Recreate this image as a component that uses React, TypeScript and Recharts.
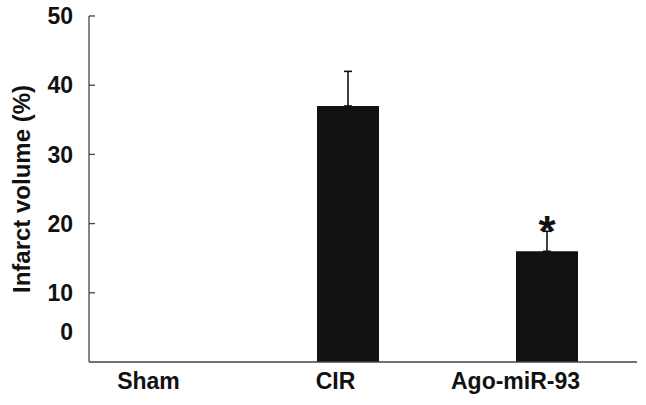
import React from 'react';
import { BarChart, Bar, XAxis, YAxis, ErrorBar, LabelList } from 'recharts';

const groups = ['Sham', 'CIR', 'Ago-miR-93'];
const infarct = [0, 37, 16];
const sd = [0, 5, 2.9];
const marks = ['', '', '*'];
const yTicks = [0, 10, 20, 30, 40, 50];

// only the upper whisker is drawn
const data = groups.map((g, i) => ({ name: g, value: infarct[i], err: [0, sd[i]], mark: marks[i] }));

const FONT = '"Liberation Sans", Arial, sans-serif';
// the reference labels sit a bit off the bar centres
const X_NUDGE = [0, -12, -31];

const XTick = (props: any) => {
    const { x, y, payload, index } = props;
    return (
        <text x={x + (X_NUDGE[index] || 0)} y={y} dy="0.71em" textAnchor="middle"
            fontFamily={FONT} fontWeight="bold" fontSize={23} fill="#111">
            {payload.value}
        </text>
    );
};

const YTick = (props: any) => {
    const { x, y, payload } = props;
    // the "0" label is drawn well above its tick in the original
    const shift = payload.value === 0 ? -30 : 0;
    return (
        <g>
            {payload.value !== 0 && <line x1={x} x2={x + 6} y1={y} y2={y} stroke="#444" strokeWidth={1.3} />}
            <text x={x - 16} y={y + shift} dy="0.36em" textAnchor="end"
                fontFamily={FONT} fontWeight="bold" fontSize={23} fill="#111">
                {payload.value}
            </text>
        </g>
    );
};

const Star = (props: any) => {
    const { x, y, width, height, value, index } = props;
    if (!value) return null;
    const v = infarct[index];
    const top = y - (sd[index] * height) / v;
    return (
        <text x={x + width / 2} y={top + 11} textAnchor="middle"
            fontFamily={FONT} fontWeight="bold" fontSize={44} fill="#111">
            {value}
        </text>
    );
};

export default function App() {
    return (
        <div style={{ position: 'absolute', left: 0, top: 0, width: 646, height: 405, background: '#fff' }}>
            <BarChart width={646} height={405} data={data} margin={{ top: 16, right: 9, bottom: 13, left: 29 }}>
                <XAxis dataKey="name" height={30} padding={{ left: -40, right: -9 }}
                    axisLine={{ stroke: '#444', strokeWidth: 1.3 }} tickLine={false}
                    tickSize={0} tickMargin={11} tick={<XTick />} interval={0} />
                <YAxis width={60} domain={[0, 50]} ticks={yTicks} interval={0}
                    axisLine={{ stroke: '#444', strokeWidth: 1.3 }} tickLine={false}
                    tickSize={0} tickMargin={0} tick={<YTick />}
                    label={{
                        content: (p: any) => {
                            const vb = p.viewBox;
                            const cx = vb.x - 8;
                            const cy = vb.y + vb.height / 2;
                            return (
                                <text x={cx} y={cy} transform={`rotate(-90 ${cx} ${cy})`} textAnchor="middle"
                                    dominantBaseline="central" fontFamily={FONT} fontWeight="bold"
                                    fontSize={24} fill="#111">
                                    Infarct volume (%)
                                </text>
                            );
                        },
                    }} />
                <Bar dataKey="value" fill="#111" barSize={62} isAnimationActive={false}>
                    <ErrorBar dataKey="err" width={4} stroke="#111" strokeWidth={1.6} direction="y" />
                    <LabelList dataKey="mark" content={<Star />} />
                </Bar>
            </BarChart>
        </div>
    );
}
